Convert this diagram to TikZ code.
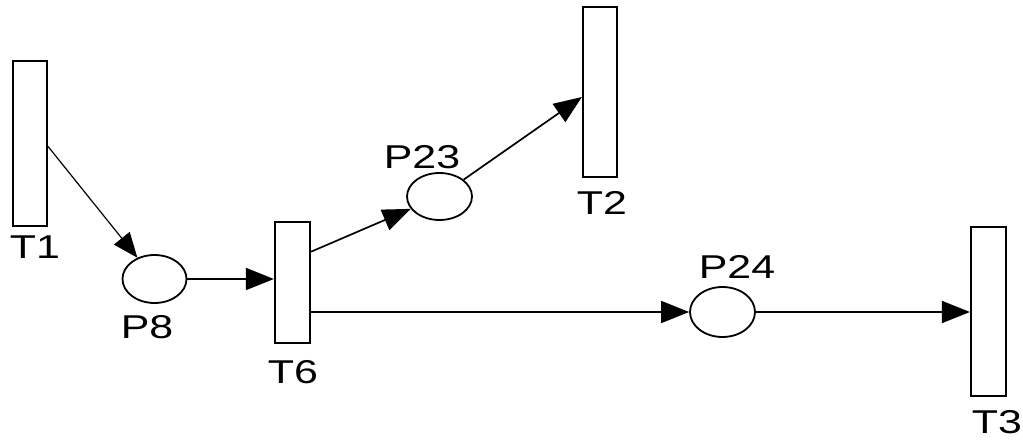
\documentclass[tikz,border=0pt]{standalone}
\usepackage{fontspec}
\usepackage{graphicx}
\setmainfont{Liberation Sans}
\usetikzlibrary{arrows.meta,calc}
\newcommand{\lab}[1]{\scalebox{1.3}[1]{#1}}
\tikzset{
  trans/.style={draw, line width=2.2pt, minimum width=#1, inner sep=0pt, fill=white},
  place/.style={draw, ellipse, line width=1.8pt, inner sep=0pt, fill=white},
  lbl/.style={inner sep=0pt, font=\fontsize{33}{38}\selectfont},
  arc/.style={line width=1.7pt, -{Triangle[length=28pt,width=22pt]}}
}
\usetikzlibrary{shapes.geometric}
\begin{document}
\begin{tikzpicture}[x=1pt,y=1pt]
\useasboundingbox[fill=white] (0,0) rectangle (1023,440);
% transitions
\node[trans=34pt, minimum height=165pt] (T1) at (30,296.5) {};
\node[trans=35pt, minimum height=121pt] (T6) at (292.5,157.5) {};
\node[trans=34pt, minimum height=170pt] (T2) at (600,348) {};
\node[trans=35pt, minimum height=169pt] (T3) at (988.5,128.5) {};
% places
\node[place, minimum width=64pt, minimum height=48pt] (P8) at (154.5,161) {};
\node[place, minimum width=65pt, minimum height=47pt] (P23) at (439.5,243.5) {};
\node[place, minimum width=65pt, minimum height=50pt] (P24) at (722.5,128) {};
% labels
\node[lbl] (lT1) at (35,193) {\lab{T1}};
\node[lbl] (lP8) at (147,113) {\lab{P8}};
\node[lbl] (lT6) at (293,68) {\lab{T6}};
\node[lbl] (lP23) at (422,283) {\lab{P23}};
\node[lbl] (lT2) at (602,237) {\lab{T2}};
\node[lbl] (lP24) at (737,173) {\lab{P24}};
\node[lbl] (lT3) at (997,18) {\lab{T3}};
% arcs
\draw[line width=1.2pt, -{Triangle[length=25pt,width=20pt]}] ([yshift=-3pt]T1.east) -- (P8);
\draw[arc] (P8.east) -- (T6.west |- P8.east);
\coordinate (t6a) at ($(T6.north east)!0.25!(T6.south east)$);
\draw[arc] (t6a) -- (P23);
\draw[arc] (P23) -- ([yshift=-5pt]T2.west);
\draw[arc] (T6.east |- P24.west) -- (P24.west);
\draw[arc] (P24.east) -- (T3.west |- P24.east);
\end{tikzpicture}
\end{document}
